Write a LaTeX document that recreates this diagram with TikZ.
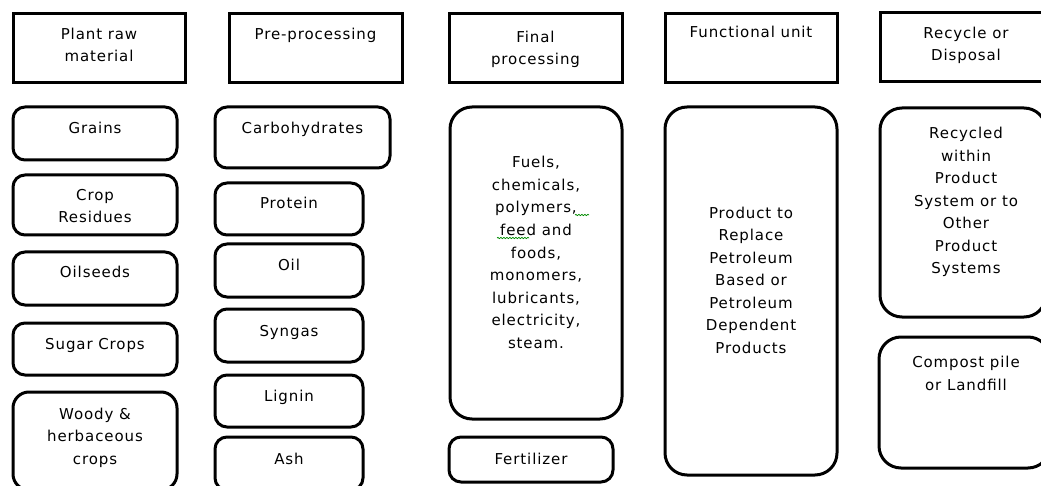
\documentclass[tikz,border=0pt]{standalone}
\usepackage{fontspec}
\setmainfont[LetterSpace=6]{DejaVu Sans}
\usetikzlibrary{decorations.pathmorphing}
\tikzset{
  hdr/.style={draw=black, line width=3pt, rectangle, inner sep=0pt, outer sep=0pt},
  sbox/.style={draw=black, line width=3pt, rectangle, rounded corners=12pt, inner sep=0pt, outer sep=0pt},
  mbox/.style={draw=black, line width=3pt, rectangle, rounded corners=16pt, inner sep=0pt, outer sep=0pt},
  bbox/.style={draw=black, line width=3pt, rectangle, rounded corners=22pt, inner sep=0pt, outer sep=0pt},
  lbl/.style={font=\fontsize{15}{22.5}\selectfont, align=center, anchor=base, inner sep=0pt, text=black},
  squig/.style={draw=green!55!black, decorate, decoration={snake, amplitude=0.7pt, segment length=3pt}, line width=0.7pt}
}
\newcommand\mkbox[6]{\node[#6, anchor=north west, minimum width=#4pt-#2pt, minimum height=#5pt-#3pt] (#1) at (#2,#3) {};}
\begin{document}
\begin{tikzpicture}[x=1pt, y=-1pt]
\useasboundingbox (0,0) rectangle (1041,486);
\fill[white] (0,0) rectangle (1041,486);
\clip (0,0) rectangle (1041,486);
% headers
\mkbox{h1}{13}{14}{185}{83}{hdr}
\mkbox{h2}{229}{14}{402}{83}{hdr}
\mkbox{h3}{449}{14}{622}{83}{hdr}
\mkbox{h4}{665}{14}{837}{83}{hdr}
\mkbox{h5}{880}{13}{1053}{82}{hdr}
\node[lbl] (t1) at (99,62) {Plant raw\\material};
\node[lbl] (t2) at (315.5,40) {Pre-processing};
\node[lbl] (t3) at (535.5,65) {Final\\processing};
\node[lbl] (t4) at (751,38) {Functional unit};
\node[lbl] (t5) at (966,61) {Recycle or\\Disposal};
% column 1
\mkbox{grains}{13}{107}{177}{160}{sbox}
\mkbox{crop}{13}{175}{177}{235}{sbox}
\mkbox{oilseeds}{13}{252}{177}{305}{sbox}
\mkbox{sugar}{13}{323}{177}{375}{sbox}
\mkbox{woody}{13}{392}{177}{490}{mbox}
\node[lbl] (tgrains) at (95,134) {Grains};
\node[lbl] (tcrop) at (95,223) {Crop\\Residues};
\node[lbl] (toilseeds) at (95,278) {Oilseeds};
\node[lbl] (tsugar) at (95,349) {Sugar Crops};
\node[lbl] (twoody) at (95,464) {Woody \&\\herbaceous\\crops};
% column 2
\mkbox{carb}{215}{107}{390}{168}{sbox}
\mkbox{protein}{215}{183}{363}{235}{sbox}
\mkbox{oil}{215}{244}{363}{297}{sbox}
\mkbox{syngas}{215}{309}{363}{362}{sbox}
\mkbox{lignin}{215}{375}{363}{427}{sbox}
\mkbox{ash}{215}{437}{363}{490}{sbox}
\node[lbl] (tcarb) at (302.5,134) {Carbohydrates};
\node[lbl] (tprotein) at (289,209) {Protein};
\node[lbl] (toil) at (289,271) {Oil};
\node[lbl] (tsyngas) at (289,336) {Syngas};
\node[lbl] (tlignin) at (289,401) {Lignin};
\node[lbl] (tash) at (289,464) {Ash};
% column 3
\mkbox{fuels}{450}{107}{622}{419}{bbox}
\mkbox{fert}{449}{437}{613}{482}{sbox}
\node[lbl] (tfuels) at (536,348) {Fuels,\\chemicals,\\polymers,\\feed and\\foods,\\monomers,\\lubricants,\\electricity,\\steam.};
\node[lbl] (tfert) at (531,464) {Fertilizer};
\draw[squig] (497,238) -- (529,238);
\draw[squig] (575,215) -- (589,215);
% column 4
\mkbox{product}{665}{107}{837}{475}{bbox}
\node[lbl] (tproduct) at (751,353) {Product to\\Replace\\Petroleum\\Based or\\Petroleum\\Dependent\\Products};
% column 5
\mkbox{recycled}{880}{108}{1046}{317}{bbox}
\mkbox{compost}{879}{337}{1050}{468}{bbox}
\node[lbl] (trecycled) at (966,274) {Recycled\\within\\Product\\System or to\\Other\\Product\\Systems};
\node[lbl] (tcompost) at (966,390) {Compost pile\\or Landfill};
\end{tikzpicture}
\end{document}
